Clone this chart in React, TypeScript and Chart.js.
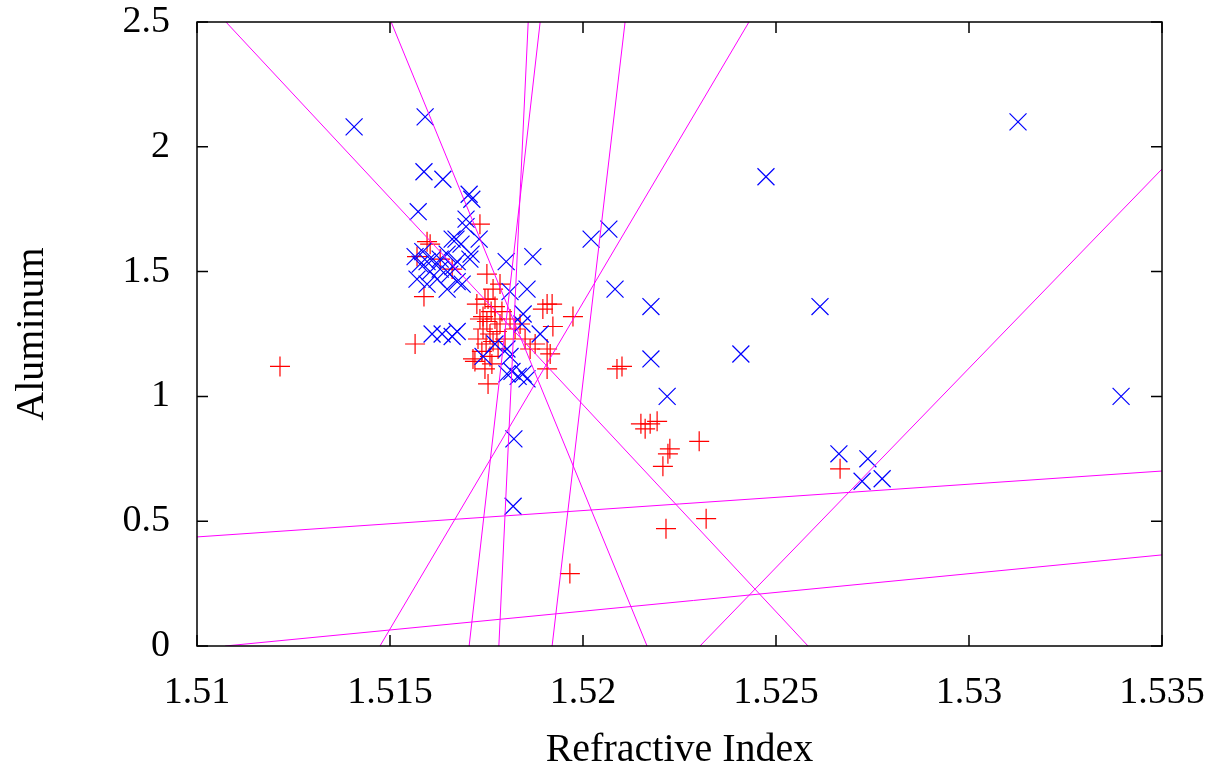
import React, { useEffect, useRef } from 'react';
import { Chart, registerables } from 'chart.js';

Chart.register(...registerables);

const xTickValues = [1.51, 1.515, 1.52, 1.525, 1.53, 1.535];
const yTickValues = [0, 0.5, 1, 1.5, 2, 2.5];
const xTitle = 'Refractive Index';
const yTitle = 'Aluminum';

// red "+" series
const redRI = [
  1.51215, 1.51565, 1.51596, 1.5157, 1.51733, 1.51588, 1.51751, 1.51767, 1.51907, 1.5192,
  1.51896, 1.51974, 1.51922, 1.51907, 1.51915, 1.51907, 1.51715, 1.51754, 1.51966, 1.52088,
  1.52101, 1.5215, 1.52161, 1.52174, 1.52192, 1.52207, 1.52225, 1.5222, 1.52301, 1.52215,
  1.52319, 1.52666, 1.51725, 1.51746, 1.51762, 1.51733, 1.51751, 1.51772, 1.51785, 1.51741,
  1.51759, 1.51777, 1.51728, 1.51749, 1.51767, 1.51798, 1.51738, 1.51759, 1.5178, 1.5172,
  1.51764, 1.51746, 1.5179, 1.51811, 1.51824, 1.51837, 1.5185, 1.51785, 1.51863, 1.51876,
  1.5163, 1.51661, 1.51604, 1.51741, 1.51754, 1.51772,
];
const redAl = [
  1.12, 1.21, 1.62, 1.56, 1.69, 1.4, 1.49, 1.43, 1.37, 1.37,
  1.35, 1.32, 1.28, 1.19, 1.17, 1.11, 1.15, 1.05, 0.29, 1.11,
  1.12, 0.89, 0.87, 0.89, 0.9, 0.72, 0.79, 0.77, 0.82, 0.47,
  0.51, 0.71, 1.37, 1.39, 1.34, 1.31, 1.3, 1.31, 1.29, 1.27,
  1.25, 1.26, 1.23, 1.21, 1.22, 1.23, 1.18, 1.16, 1.19, 1.14,
  1.13, 1.11, 1.34, 1.31, 1.27, 1.29, 1.23, 1.45, 1.19, 1.21,
  1.55, 1.51, 1.61, 1.32, 1.39, 1.36,
];

// blue "x" series
const blueRI = [
  1.51407, 1.51591, 1.53127, 1.52474, 1.51588, 1.51637, 1.51705, 1.51712, 1.51573, 1.51697,
  1.51671, 1.51684, 1.51661, 1.51731, 1.5171, 1.51801, 1.5187, 1.52021, 1.52067, 1.52083,
  1.52176, 1.52176, 1.52218, 1.52409, 1.52614, 1.53394, 1.52663, 1.52738, 1.52723, 1.52775,
  1.51821, 1.51819, 1.51585, 1.51611, 1.51596, 1.5163, 1.51648, 1.51674, 1.51707, 1.51663,
  1.5157, 1.51604, 1.5163, 1.51655, 1.51674, 1.51596, 1.51687, 1.51648, 1.51578, 1.51622,
  1.51609, 1.51635, 1.51661, 1.51674, 1.51811, 1.51855, 1.51845, 1.51842, 1.51889, 1.51741,
  1.51803, 1.51811, 1.51845, 1.51855, 1.51832, 1.51816, 1.51803, 1.51772, 1.51565, 1.51697,
];
const blueAl = [
  2.08, 2.12, 2.1, 1.88, 1.9, 1.87, 1.81, 1.79, 1.74, 1.71,
  1.63, 1.61, 1.63, 1.63, 1.57, 1.54, 1.56, 1.63, 1.67, 1.43,
  1.36, 1.15, 1.0, 1.17, 1.36, 1.0, 0.77, 0.75, 0.66, 0.67,
  0.83, 0.56, 1.58, 1.55, 1.54, 1.55, 1.57, 1.54, 1.55, 1.52,
  1.47, 1.5, 1.51, 1.49, 1.46, 1.45, 1.45, 1.43, 1.53, 1.47,
  1.25, 1.25, 1.24, 1.26, 1.42, 1.43, 1.33, 1.29, 1.25, 1.16,
  1.19, 1.16, 1.09, 1.07, 1.08, 1.1, 1.09, 1.21, 1.56, 1.68,
];

// magenta separating lines (two end points each, on the plot border)
const lineStartX = [1.51075, 1.51503, 1.51858, 1.51889, 1.52109, 1.5243, 1.52303, 1.51, 1.51073];
const lineStartY = [2.5, 2.5, 2.5, 2.5, 2.5, 2.5, 0, 0.437, 0];
const lineEndX = [1.52583, 1.52166, 1.51782, 1.51705, 1.5192, 1.51474, 1.535, 1.535, 1.535];
const lineEndY = [0, 0, 0, 0, 0, 0, 1.911, 0.701, 0.365];

const FONT = '"Liberation Serif", "DejaVu Serif", "Times New Roman", serif';

const framePlugin = {
  id: 'gnuplotFrame',
  afterDraw(chart: any) {
    const { ctx, chartArea, scales } = chart;
    const { left, right, top, bottom } = chartArea;
    const xs = scales.x;
    const ys = scales.y;
    ctx.save();
    ctx.strokeStyle = '#000000';
    ctx.lineWidth = 1.5;
    ctx.strokeRect(left, top, right - left, bottom - top);
    const tl = 11;
    ctx.beginPath();
    xTickValues.forEach((v) => {
      const px = xs.getPixelForValue(v);
      ctx.moveTo(px, bottom);
      ctx.lineTo(px, bottom - tl);
      ctx.moveTo(px, top);
      ctx.lineTo(px, top + tl);
    });
    yTickValues.forEach((v) => {
      const py = ys.getPixelForValue(v);
      ctx.moveTo(left, py);
      ctx.lineTo(left + tl, py);
      ctx.moveTo(right, py);
      ctx.lineTo(right - tl, py);
    });
    ctx.stroke();

    ctx.fillStyle = '#000000';
    ctx.font = `40px ${FONT}`;
    ctx.textAlign = 'center';
    ctx.textBaseline = 'alphabetic';
    ctx.fillText(xTitle, (left + right) / 2, 761);
    ctx.translate(43, (top + bottom) / 2);
    ctx.rotate(-Math.PI / 2);
    ctx.fillText(yTitle, 0, 0);
    ctx.restore();
  },
};

const fmt = (v: number) => String(Number(v.toFixed(3)));

export default function App() {
  const ref = useRef<HTMLCanvasElement | null>(null);

  useEffect(() => {
    if (!ref.current) return;
    const lineSets = lineStartX.map((_, i) => ({
      type: 'line' as const,
      data: [
        { x: lineStartX[i], y: lineStartY[i] },
        { x: lineEndX[i], y: lineEndY[i] },
      ],
      borderColor: '#ff00ff',
      borderWidth: 1,
      pointRadius: 0,
      fill: false,
      order: 0,
    }));
    const chart = new Chart(ref.current, {
      type: 'scatter',
      data: {
        datasets: [
          {
            data: redRI.map((x, i) => ({ x, y: redAl[i] })),
            pointStyle: 'cross',
            radius: 10,
            borderColor: '#ff0000',
            backgroundColor: '#ff0000',
            borderWidth: 1.2,
            order: 2,
          } as any,
          {
            data: blueRI.map((x, i) => ({ x, y: blueAl[i] })),
            pointStyle: 'crossRot',
            radius: 12,
            borderColor: '#0000ff',
            backgroundColor: '#0000ff',
            borderWidth: 1.2,
            order: 1,
          } as any,
          ...lineSets,
        ],
      },
      options: {
        animation: false,
        responsive: false,
        events: [],
        layout: { padding: { left: 0, right: 63, top: 22, bottom: 0 } },
        plugins: { legend: { display: false }, tooltip: { enabled: false } },
        scales: {
          x: {
            type: 'linear',
            min: 1.51,
            max: 1.535,
            afterBuildTicks: (s: any) => {
              s.ticks = xTickValues.map((value) => ({ value }));
            },
            afterFit: (s: any) => {
              s.height = 127;
              s.paddingLeft = 0;
              s.paddingRight = 0;
              s.paddingTop = 0;
              s.paddingBottom = 0;
            },
            grid: { display: false, drawTicks: false },
            border: { display: false },
            ticks: {
              color: '#000000',
              padding: 28,
              maxRotation: 0,
              autoSkip: false,
              font: { family: FONT, size: 38, lineHeight: 1 },
              callback: (v: any) => fmt(Number(v)),
            },
          },
          y: {
            type: 'linear',
            min: 0,
            max: 2.5,
            afterBuildTicks: (s: any) => {
              s.ticks = yTickValues.map((value) => ({ value }));
            },
            afterFit: (s: any) => {
              s.width = 197;
              s.paddingLeft = 0;
              s.paddingRight = 0;
              s.paddingTop = 0;
              s.paddingBottom = 0;
            },
            grid: { display: false, drawTicks: false },
            border: { display: false },
            ticks: {
              color: '#000000',
              padding: 27,
              autoSkip: false,
              font: { family: FONT, size: 38, lineHeight: 1 },
              callback: (v: any) => fmt(Number(v)),
            },
          },
        },
      },
      plugins: [framePlugin],
    } as any);
    return () => chart.destroy();
  }, []);

  return (
    <div style={{ position: 'absolute', left: 0, top: 0, width: 1225, height: 773, background: '#ffffff' }}>
      <canvas ref={ref} width={1225} height={773} style={{ display: 'block' }} />
    </div>
  );
}
